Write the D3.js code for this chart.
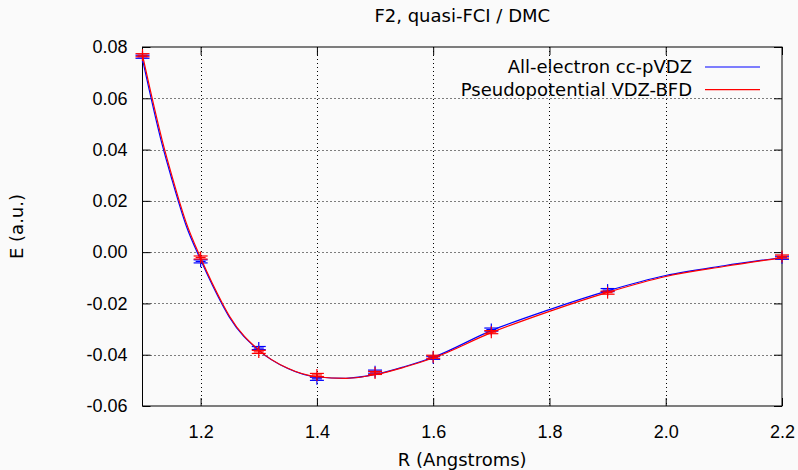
<!DOCTYPE html>
<html>
<head>
<meta charset="utf-8">
<script src="https://cdn.jsdelivr.net/npm/d3@7"></script>
<style>
  body { margin: 0; background: #fafafa; }
  svg { display: block; font-family: "DejaVu Sans", sans-serif; }
  .axis path { display: none; }
  .axis line { stroke: #000; }
  .axis text { font-size: 18px; fill: #000; }
</style>
</head>
<body>
<div id="chart"></div>
<script>
// Data points (R in Angstroms, E in a.u.)
const R = [1.1, 1.2, 1.3, 1.4, 1.5, 1.6, 1.7, 1.9, 2.2];
const allElectron = [0.0762, -0.0036, -0.0374, -0.0494, -0.0466, -0.0412, -0.0302, -0.0148, -0.0022];
const pseudo = [0.0768, -0.0021, -0.0389, -0.0479, -0.0471, -0.0408, -0.0312, -0.0158, -0.0017];
const errAE = [0.0006, 0.0006, 0.0006, 0.0006, 0.0006, 0.0006, 0.0006, 0.0006, 0.0006];
const errPP = [0.0006, 0.0006, 0.0006, 0.0006, 0.0006, 0.0006, 0.0006, 0.0006, 0.0006];

// Fitted curves
const fitR = [1.1, 1.134, 1.15, 1.175, 1.2, 1.238, 1.25, 1.3, 1.35, 1.4, 1.45, 1.5, 1.55, 1.6, 1.7, 1.8, 1.9, 2.0, 2.1, 2.2];
const fitAE = [0.0752, 0.0418, 0.0288, 0.0104, -0.0030, -0.0208, -0.0256, -0.0383, -0.0454, -0.0487, -0.0492, -0.0477, -0.0447, -0.0410, -0.0306, -0.0224, -0.0151, -0.0091, -0.0053, -0.0021];
const fitPP = [0.0768, 0.0435, 0.0302, 0.0116, -0.0022, -0.0202, -0.0251, -0.0382, -0.0453, -0.0486, -0.0492, -0.0478, -0.0449, -0.0413, -0.0314, -0.0231, -0.0157, -0.0095, -0.0056, -0.0022];

const xTicks = [1.2, 1.4, 1.6, 1.8, 2.0, 2.2];
const yTicks = [-0.06, -0.04, -0.02, 0.00, 0.02, 0.04, 0.06, 0.08];

const series = [
  { name: "All-electron cc-pVDZ", color: "#0000ff", y: allElectron, err: errAE, fit: fitAE },
  { name: "Pseudopotential VDZ-BFD", color: "#ff0000", y: pseudo, err: errPP, fit: fitPP }
];

const width = 798, height = 470;
const m = { left: 142.5, right: 782, top: 47, bottom: 406 };

const svg = d3.select("#chart").append("svg")
  .attr("width", width)
  .attr("height", height);

svg.append("rect").attr("width", width).attr("height", height).attr("fill", "#fafafa");

const x = d3.scaleLinear().domain([1.1, 2.2]).range([m.left, m.right]);
const y = d3.scaleLinear().domain([-0.06, 0.08]).range([m.bottom, m.top]);

// grid
const grid = svg.append("g").attr("stroke", "#000").attr("stroke-dasharray", "1,3").attr("stroke-width", 1);
grid.selectAll(".gx").data(xTicks.filter(d => d < 2.2)).enter().append("line")
  .attr("x1", d => Math.round(x(d)) + 0.5).attr("x2", d => Math.round(x(d)) + 0.5)
  .attr("y1", m.top).attr("y2", m.bottom);
grid.selectAll(".gy").data(yTicks.filter(d => d > -0.06 && d < 0.08)).enter().append("line")
  .attr("y1", d => Math.round(y(d)) + 0.5).attr("y2", d => Math.round(y(d)) + 0.5)
  .attr("x1", m.left).attr("x2", m.right);

// axes with inward ticks, mirrored
svg.append("g").attr("class", "axis").attr("transform", `translate(0,${m.bottom})`)
  .call(d3.axisBottom(x).tickValues(xTicks).tickFormat(d3.format(".1f")).tickSizeInner(-8).tickPadding(19));
svg.append("g").attr("class", "axis").attr("transform", `translate(0,${m.top})`)
  .call(d3.axisTop(x).tickValues(xTicks).tickFormat("").tickSizeInner(-8));
svg.append("g").attr("class", "axis").attr("transform", `translate(${m.left},0)`)
  .call(d3.axisLeft(y).tickValues(yTicks).tickFormat(d3.format(".2f")).tickSizeInner(-8).tickPadding(15));
svg.append("g").attr("class", "axis").attr("transform", `translate(${m.right},0)`)
  .call(d3.axisRight(y).tickValues(yTicks).tickFormat("").tickSizeInner(-8));

svg.selectAll(".axis .tick text").filter(function () { return this.textContent.startsWith("−"); })
  .text(function () { return this.textContent.replace("−", "-"); });

// frame
svg.append("rect").attr("x", m.left).attr("y", m.top).attr("width", m.right - m.left).attr("height", m.bottom - m.top)
  .attr("fill", "none").attr("stroke", "#000").attr("stroke-width", 1);

const line = d3.line().x(d => x(d[0])).y(d => y(d[1])).curve(d3.curveMonotoneX);

series.forEach(s => {
  const g = svg.append("g").attr("stroke", s.color).attr("stroke-width", 1.2).attr("fill", "none");
  // error bars with + points
  R.forEach((r, i) => {
    const cx = x(r), cy = y(s.y[i]);
    const y1 = y(s.y[i] + s.err[i]), y2 = y(s.y[i] - s.err[i]);
    g.append("line").attr("x1", cx).attr("x2", cx).attr("y1", y1).attr("y2", y2);
    g.append("line").attr("x1", cx - 7).attr("x2", cx + 7).attr("y1", y1).attr("y2", y1);
    g.append("line").attr("x1", cx - 7).attr("x2", cx + 7).attr("y1", y2).attr("y2", y2);
    g.append("line").attr("x1", cx - 5).attr("x2", cx + 5).attr("y1", cy).attr("y2", cy);
    g.append("line").attr("x1", cx).attr("x2", cx).attr("y1", cy - 6).attr("y2", cy + 6);
  });
  g.append("path").attr("d", line(fitR.map((r, i) => [r, s.fit[i]])));
});

// legend
series.forEach((s, i) => {
  const ly = 67 + i * 22.6;
  svg.append("text").attr("x", 692).attr("y", ly).attr("dy", "0.35em")
    .attr("text-anchor", "end").attr("font-size", 18).text(s.name);
  svg.append("line").attr("x1", 705).attr("x2", 760).attr("y1", ly).attr("y2", ly)
    .attr("stroke", s.color).attr("stroke-width", 1.2);
});

// title and axis labels
svg.append("text").attr("x", (m.left + m.right) / 2).attr("y", 22).attr("text-anchor", "middle")
  .attr("font-size", 18).text("F2, quasi-FCI / DMC");
svg.append("text").attr("x", (m.left + m.right) / 2).attr("y", 466).attr("text-anchor", "middle")
  .attr("font-size", 18).text("R (Angstroms)");
svg.append("text").attr("transform", `translate(23,${(m.top + m.bottom) / 2}) rotate(-90)`)
  .attr("text-anchor", "middle").attr("font-size", 18).text("E (a.u.)");
</script>
</body>
</html>
